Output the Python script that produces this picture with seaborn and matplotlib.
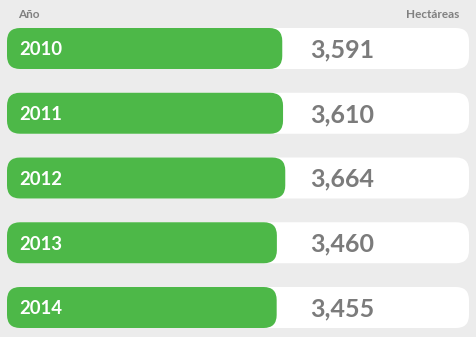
import matplotlib
matplotlib.use("Agg")
import matplotlib.pyplot as plt
import matplotlib.transforms as mtransforms
from matplotlib.patches import FancyBboxPatch
import seaborn as sns
import pandas as pd

years = ["2010", "2011", "2012", "2013", "2014"]
hectares = [3591, 3610, 3664, 3460, 3455]
value_labels = ["3,591", "3,610", "3,664", "3,460", "3,455"]
header_left = "Año"
header_right = "Hectáreas"

BG = "#ececec"
GREEN = "#4db848"
GREY = "#7b7b7b"

sns.set_theme(style="white")
plt.rcParams["font.family"] = ["Lato", "DejaVu Sans"]

W, H = 476, 337
fig = plt.figure(figsize=(W / 100, H / 100), dpi=100, facecolor=BG)
ax = fig.add_axes([7 / W, 0, 462 / W, 1])
ax.set_facecolor(BG)

df = pd.DataFrame({"year": years, "value": hectares})
sns.barplot(data=df, x="value", y="year", orient="h", color=GREEN,
            width=41 / 64.75, ax=ax)

base = -3100
xmax = 8130
spacing = 64.75
ax.set_xlim(base, xmax)
ax.set_ylim(4 + (H - 307.5) / spacing, -48.5 / spacing)
for s in ax.spines.values():
    s.set_visible(False)
ax.set_xticks([])
ax.set_yticks([])
ax.set_xlabel("")
ax.set_ylabel("")

xu_per_px = (xmax - base) / 462
yu_per_px = 1 / spacing
r_px = 13
aspect = yu_per_px / xu_per_px

bars = list(ax.patches)
for p in bars:
    y0, h, val = p.get_y(), p.get_height(), p.get_width()
    p.remove()
    white = FancyBboxPatch((base, y0), xmax - base, h,
                           boxstyle=f"round,pad=0,rounding_size={r_px * xu_per_px}",
                           mutation_aspect=aspect, facecolor="white",
                           edgecolor="none", zorder=1)
    ax.add_patch(white)
    green = FancyBboxPatch((base, y0), val - base, h,
                           boxstyle=f"round,pad=0,rounding_size={r_px * xu_per_px}",
                           mutation_aspect=aspect, facecolor=GREEN,
                           edgecolor="none", zorder=2)
    ax.add_patch(green)

trans = mtransforms.blended_transform_factory(fig.transFigure, ax.transData)
for i, (yr, lab) in enumerate(zip(years, value_labels)):
    ax.text(19 / W, i + 0.02, yr, transform=trans, color="white",
            fontsize=13.3, fontweight="bold", ha="left", va="center", zorder=3)
    ax.text(310 / W, i + 0.02, lab, transform=trans, color=GREY,
            fontsize=18, fontweight="bold", ha="left", va="center", zorder=3)

fig.text(18 / W, 1 - 15 / H, header_left, color="#808080", fontsize=8.5,
         fontweight="bold", ha="left", va="center")
fig.text(459 / W, 1 - 15 / H, header_right, color="#808080", fontsize=8.5,
         fontweight="bold", ha="right", va="center")

fig.savefig("out.png", dpi=100, facecolor=BG)
